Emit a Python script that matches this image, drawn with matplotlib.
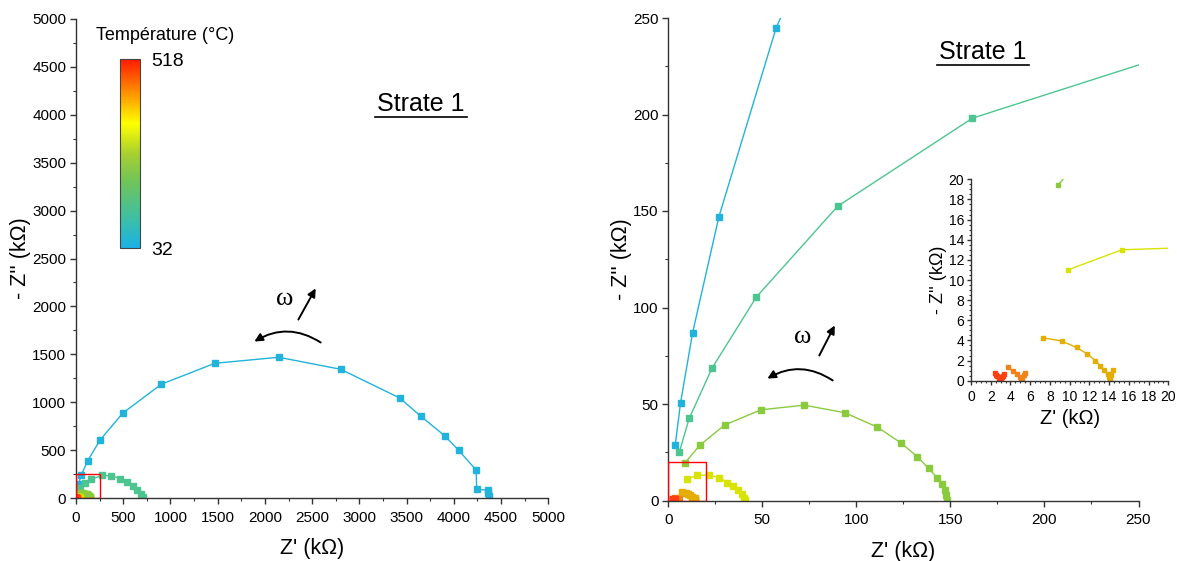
import numpy as np
import matplotlib
matplotlib.use("Agg")
import matplotlib.pyplot as plt
from matplotlib.colors import LinearSegmentedColormap, Normalize
from matplotlib.cm import ScalarMappable
from matplotlib.patches import Rectangle, FancyArrowPatch
from matplotlib.lines import Line2D
from matplotlib.ticker import MultipleLocator

plt.rcParams['font.family'] = ['Liberation Sans', 'DejaVu Sans']

# ---------------- data (kOhm) ----------------
temp_min, temp_max = 32, 518

z1_re = [3.7, 6.5, 12.9, 26.9, 57.3, 124, 254, 494, 902, 1469, 2146, 2801, 3425,
         3654, 3904, 4052, 4236, 4242, 4358, 4358, 4369]
z1_im = [28.9, 50.5, 86.8, 147, 244.8, 389, 604, 885, 1187, 1406, 1469, 1344, 1045,
         851, 649, 497, 292, 90, 83, 52, 24]

z2_re = [5.8, 11.1, 23.2, 46.8, 90.1, 161.7, 280, 372, 465, 539, 599, 648, 684, 705]
z2_im = [24.9, 42.5, 68.5, 105.4, 152.5, 198.1, 235, 232, 203, 167, 125, 84, 42, 7]

z3_re = [8.8, 16.6, 29.9, 49.3, 72.3, 93.8, 111.2, 123.9, 132.4, 138.5, 142.8,
         145.4, 146.9, 147.8, 148.1]
z3_im = [19.4, 28.5, 39.1, 47.0, 49.4, 45.5, 38.0, 29.7, 22.7, 16.6, 11.9,
         8.3, 5.5, 2.6, 0.5]

z4_re = [9.8, 15.3, 21.4, 27.2, 31.4, 34.5, 37.0, 39.0, 40.3, 41.0]
z4_im = [11.0, 13.0, 13.2, 11.8, 9.3, 7.3, 5.2, 3.2, 1.5, 0.4]

z5_re = [7.26, 9.19, 10.7, 11.8, 12.6, 13.1, 13.5, 13.85, 14.0, 14.08, 14.2, 14.37]
z5_im = [4.27, 3.94, 3.3, 2.65, 1.99, 1.49, 1.06, 0.67, 0.34, 0.14, 0.57, 1.06]

z6_re = [3.78, 4.29, 4.69, 4.96, 5.1, 5.2, 5.35, 5.5]
z6_im = [1.33, 0.96, 0.67, 0.34, 0.1, 0.3, 0.55, 0.8]

z7_re = [2.43, 2.55, 2.67, 2.8, 2.94, 3.05, 3.14, 3.26, 3.38]
z7_im = [0.73, 0.6, 0.47, 0.3, 0.14, 0.2, 0.33, 0.5, 0.67]

series_re = [z1_re, z2_re, z3_re, z4_re, z5_re, z6_re, z7_re]
series_im = [z1_im, z2_im, z3_im, z4_im, z5_im, z6_im, z7_im]
colors = ['#22b3dc', '#4dc590', '#8acb3e', '#d8e400', '#e4ad00', '#f0831a', '#ff4010']

cmap_nodes = [(0.0, '#1ab2e6'), (0.15, '#3cbfa6'), (0.35, '#70c45a'),
              (0.5, '#a8d030'), (0.66, '#ffff00'), (0.8, '#ffa000'), (1.0, '#ff1a00')]
cmap = LinearSegmentedColormap.from_list('temp', cmap_nodes)

W, H = 1177, 561
fig = plt.figure(figsize=(W / 100, H / 100), dpi=100)


def px_axes(x0, x1, ytop, ybot):
    return fig.add_axes([x0 / W, 1 - ybot / H, (x1 - x0) / W, (ybot - ytop) / H])


def style(ax, lim, major, minor, fs, ml=4, mnl=2.5, xpad=5, ypad=3):
    ax.set_xlim(0, lim)
    ax.set_ylim(0, lim)
    for s in ['top', 'right']:
        ax.spines[s].set_visible(False)
    for s in ['left', 'bottom']:
        ax.spines[s].set_color('#333333')
        ax.spines[s].set_linewidth(1.0)
    ax.xaxis.set_major_locator(MultipleLocator(major))
    ax.yaxis.set_major_locator(MultipleLocator(major))
    ax.xaxis.set_minor_locator(MultipleLocator(minor))
    ax.yaxis.set_minor_locator(MultipleLocator(minor))
    ax.tick_params(which='major', direction='out', length=ml, width=1.0,
                   labelsize=fs, color='#333333')
    ax.tick_params(axis='x', which='major', pad=xpad)
    ax.tick_params(axis='y', which='major', pad=ypad)
    ax.tick_params(which='minor', direction='out', length=mnl, width=0.8,
                   color='#333333')


# ---------------- left plot ----------------
axL = px_axes(76, 548.3, 19, 498)
style(axL, 5000, 500, 250, 11)
for re, im, c in zip(series_re, series_im, colors):
    axL.plot(re, im, '-', color=c, lw=1.0, marker='s', ms=5, mec=c, mfc=c)
axL.add_patch(Rectangle((0, 0), 250, 250, fill=False, ec='red', lw=1.0, zorder=5))
axL.set_xlabel("Z' (kΩ)", fontsize=15.5, labelpad=10)
axL.set_ylabel("- Z'' (kΩ)", fontsize=15.5, labelpad=1)

# ---------------- right plot ----------------
axR = px_axes(668.3, 1138.5, 18, 500.5)
style(axR, 250, 50, 25, 11)
for re, im, c in zip(series_re, series_im, colors):
    axR.plot(re, im, '-', color=c, lw=1.0, marker='s', ms=5, mec=c, mfc=c)
axR.add_patch(Rectangle((0, 0), 20, 20, fill=False, ec='red', lw=1.0, zorder=5))
axR.set_xlabel("Z' (kΩ)", fontsize=15.5, labelpad=10)
axR.set_ylabel("- Z'' (kΩ)", fontsize=15.5, labelpad=1)

# ---------------- inset ----------------
axI = px_axes(971, 1168.3, 179.3, 380.7)
style(axI, 20, 2, 0.5, 10, ml=3, mnl=1.5, xpad=3.5, ypad=2)
for re, im, c in zip(series_re, series_im, colors):
    axI.plot(re, im, '-', color=c, lw=1.0, marker='s', ms=3.3, mec=c, mfc=c)
axI.set_xlabel("Z' (kΩ)", fontsize=14.5, labelpad=4)
axI.set_ylabel("- Z'' (kΩ)", fontsize=13, labelpad=1)
axI.patch.set_alpha(0)

# ---------------- colorbar ----------------
cax = px_axes(120, 140, 59, 248)
sm = ScalarMappable(norm=Normalize(temp_min, temp_max), cmap=cmap)
cb = fig.colorbar(sm, cax=cax, ticks=[temp_min, temp_max])
cb.ax.tick_params(length=0, labelsize=14, pad=8)
cb.outline.set_linewidth(0.8)
cb.outline.set_edgecolor('#444444')
fig.text(165 / W, 1 - 35 / H, "Température (°C)", fontsize=13,
         ha='center', va='center')


# ---------------- annotations ----------------
def fp(x, y):
    return (x, H - y)


for (sx, sy, ex, ey), (ax2, ay2, bx2, by2), (wx, wy) in [
        ((323, 344, 252, 343), (297, 322, 317, 286), (285, 299)),
        ((835, 382, 765, 380), (818, 358, 836, 323), (803, 337))]:
    arr = FancyArrowPatch(fp(sx, sy), fp(ex, ey), transform=None,
                          connectionstyle="arc3,rad=0.33", arrowstyle='-|>',
                          mutation_scale=12, lw=1.4, color='black')
    fig.patches.append(arr)
    arr2 = FancyArrowPatch(fp(ax2, ay2), fp(bx2, by2), transform=None,
                           arrowstyle='-|>', mutation_scale=12, lw=1.4, color='black')
    fig.patches.append(arr2)
    fig.text(wx / W, 1 - wy / H, "ω", fontsize=19, family='Liberation Serif',
             ha='center', va='center')

for cx, cy in [(421, 104), (983, 52)]:
    t = fig.text(cx / W, 1 - cy / H, "Strate 1", fontsize=18, ha='center', va='center')
    fig.lines.append(Line2D([(cx - 46) / W, (cx + 46) / W],
                            [1 - (cy + 13) / H, 1 - (cy + 13) / H],
                            transform=fig.transFigure, color='black', lw=1.2))

fig.savefig("out.png", dpi=100)
